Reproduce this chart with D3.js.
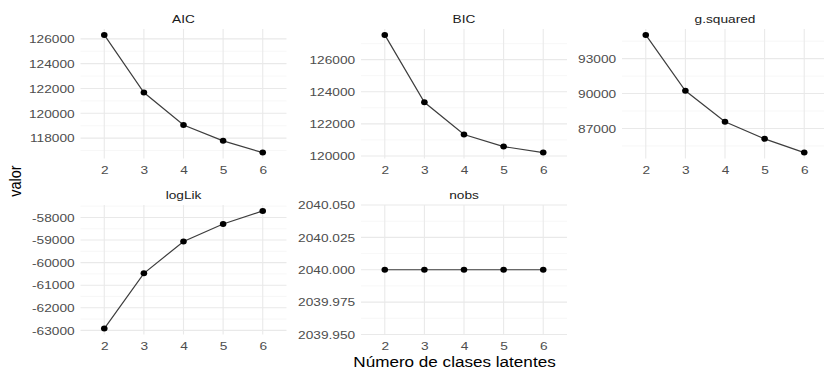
<!DOCTYPE html>
<html>
<head>
<meta charset="utf-8">
<script src="https://cdn.jsdelivr.net/npm/d3@7"></script>
<style>
  body { margin: 0; background: #fff; }
  text { font-family: "Liberation Sans", Arial, sans-serif; }
</style>
</head>
<body>
<div id="chart"></div>
<script>
// x values, shared by every facet
var clases = [2, 3, 4, 5, 6];

// one series per facet
var aic = [126320, 121670, 119050, 117780, 116830];
var bic = [127540, 123340, 121335, 120583, 120207];
var gsquared = [95045, 90235, 87580, 86109, 84924];
var loglik = [-62924, -60477, -59062, -58289, -57709];
var nobs = [2040, 2040, 2040, 2040, 2040];

// major ticks + their labels, and minor grid positions
var aicTicks = [118000, 120000, 122000, 124000, 126000];
var aicLabels = ["118000", "120000", "122000", "124000", "126000"];
var aicMinor = [117000, 119000, 121000, 123000, 125000];

var bicTicks = [120000, 122000, 124000, 126000];
var bicLabels = ["120000", "122000", "124000", "126000"];
var bicMinor = [121000, 123000, 125000, 127000];

var gsqTicks = [87000, 90000, 93000];
var gsqLabels = ["87000", "90000", "93000"];
var gsqMinor = [85500, 88500, 91500, 94500];

var llTicks = [-63000, -62000, -61000, -60000, -59000, -58000];
var llLabels = ["-63000", "-62000", "-61000", "-60000", "-59000", "-58000"];
var llMinor = [-62500, -61500, -60500, -59500, -58500, -57500];

var nobsTicks = [2039.95, 2039.975, 2040, 2040.025, 2040.05];
var nobsLabels = ["2039.950", "2039.975", "2040.000", "2040.025", "2040.050"];
var nobsMinor = [2039.9625, 2039.9875, 2040.0125, 2040.0375];

var panels = [
  { name: "AIC", values: aic, ticks: aicTicks, labels: aicLabels, minor: aicMinor, col: 0, row: 0 },
  { name: "BIC", values: bic, ticks: bicTicks, labels: bicLabels, minor: bicMinor, col: 1, row: 0 },
  { name: "g.squared", values: gsquared, ticks: gsqTicks, labels: gsqLabels, minor: gsqMinor, col: 2, row: 0 },
  { name: "logLik", values: loglik, ticks: llTicks, labels: llLabels, minor: llMinor, col: 0, row: 1 },
  { name: "nobs", values: nobs, ticks: nobsTicks, labels: nobsLabels, minor: nobsMinor, col: 1, row: 1 }
];

// layout
var width = 824, height = 368;
var colLeft = [80.5, 361, 622], panelW = 206;
var rowTop = [29, 205], panelH = 129.5;
var sx = 1.18; // the picture is a bit stretched sideways
var fs = 11.6;

var svg = d3.select("#chart")
  .append("svg")
  .attr("width", width)
  .attr("height", height)
  .style("background", "#fff");

panels.forEach(function (p) {
  var left = colLeft[p.col], top = rowTop[p.row];
  var g = svg.append("g");

  var x = d3.scalePoint()
    .domain(clases)
    .range([left, left + panelW])
    .padding(0.6);

  // ggplot style 5% expansion, fixed +-0.05 when the range is zero
  var ext = d3.extent(p.values);
  var pad = (ext[1] - ext[0]) * 0.05;
  if (pad === 0) pad = 0.05;
  var y = d3.scaleLinear()
    .domain([ext[0] - pad, ext[1] + pad])
    .range([top + panelH, top]);

  // minor grid
  g.selectAll(".minor")
    .data(p.minor)
    .enter()
    .append("line")
    .attr("x1", left).attr("x2", left + panelW)
    .attr("y1", function (d) { return y(d); })
    .attr("y2", function (d) { return y(d); })
    .attr("stroke", "#f3f3f3")
    .attr("stroke-width", 0.7);

  // major grid
  g.selectAll(".major")
    .data(p.ticks)
    .enter()
    .append("line")
    .attr("x1", left).attr("x2", left + panelW)
    .attr("y1", function (d) { return y(d); })
    .attr("y2", function (d) { return y(d); })
    .attr("stroke", "#e9e9e9")
    .attr("stroke-width", 1.1);

  g.selectAll(".vgrid")
    .data(clases)
    .enter()
    .append("line")
    .attr("x1", function (d) { return x(d); })
    .attr("x2", function (d) { return x(d); })
    .attr("y1", top).attr("y2", top + panelH)
    .attr("stroke", "#e9e9e9")
    .attr("stroke-width", 1.1);

  // y axis labels
  var ay = g.append("g")
    .attr("transform", "translate(" + left + ",0)")
    .call(d3.axisLeft(y).tickValues(p.ticks)
      .tickFormat(function (d, i) { return p.labels[i]; })
      .tickSize(0).tickPadding(5))
    .attr("font-family", null)
    .attr("font-size", fs);
  ay.select(".domain").remove();
  ay.selectAll("text")
    .attr("fill", "#4d4d4d")
    .attr("transform", "scale(" + sx + ",1)");

  // x axis labels
  var ax = g.append("g")
    .attr("transform", "translate(0," + (top + panelH) + ")")
    .call(d3.axisBottom(x).tickSize(0).tickPadding(7.5))
    .attr("font-family", null)
    .attr("font-size", fs);
  ax.select(".domain").remove();
  ax.selectAll("text")
    .attr("fill", "#4d4d4d")
    .attr("transform", "scale(" + sx + ",1)");

  // strip title
  g.append("text")
    .attr("transform", "translate(" + (left + panelW / 2) + "," + (top - 6) + ") scale(" + sx + ",1)")
    .attr("text-anchor", "middle")
    .attr("font-size", fs)
    .attr("fill", "#1a1a1a")
    .text(p.name);

  // line + points
  var line = d3.line()
    .x(function (d, i) { return x(clases[i]); })
    .y(function (d) { return y(d); });

  g.append("path")
    .datum(p.values)
    .attr("d", line)
    .attr("fill", "none")
    .attr("stroke", "#3d3d3d")
    .attr("stroke-width", 1.2);

  g.selectAll(".pt")
    .data(p.values)
    .enter()
    .append("ellipse")
    .attr("cx", function (d, i) { return x(clases[i]); })
    .attr("cy", function (d) { return y(d); })
    .attr("rx", 3.3)
    .attr("ry", 3)
    .attr("fill", "#000");
});

// axis titles
svg.append("text")
  .attr("transform", "translate(454.5,366.5) scale(" + sx + ",1)")
  .attr("text-anchor", "middle")
  .attr("font-size", 14.5)
  .attr("fill", "#000")
  .text("Número de clases latentes");

svg.append("text")
  .attr("transform", "translate(20.5,181) scale(" + sx + ",1) rotate(-90)")
  .attr("text-anchor", "middle")
  .attr("font-size", 14.5)
  .attr("fill", "#000")
  .text("valor");
</script>
</body>
</html>
